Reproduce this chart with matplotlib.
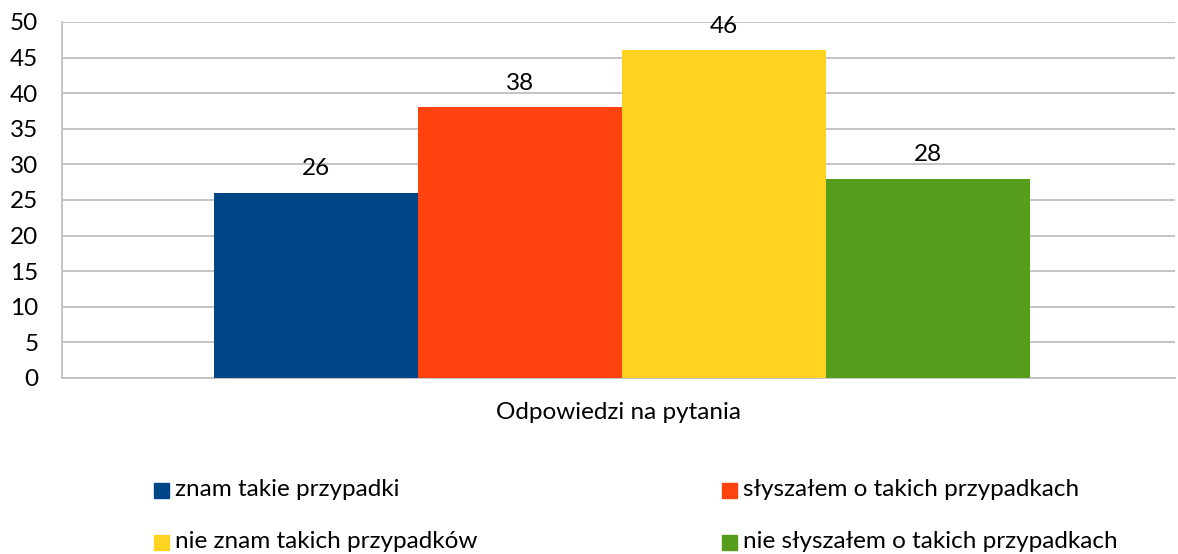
import matplotlib.pyplot as plt
from matplotlib.patches import Rectangle

labels = ['znam takie przypadki', 'słyszałem o takich przypadkach',
          'nie znam takich przypadków', 'nie słyszałem o takich przypadkach']
values = [26, 38, 46, 28]
colors = ['#004586', '#FF420E', '#FFD320', '#579D1C']
yticks = [0, 5, 10, 15, 20, 25, 30, 35, 40, 45, 50]

plt.rcParams['font.family'] = ['Lato', 'DejaVu Sans']
FS = 17.5

fig = plt.figure(figsize=(11.78, 5.54), dpi=100)
ax = fig.add_axes([0.0526, 0.3177, 0.9449, 0.6426])

x = range(len(values))
bars = ax.bar(x, values, width=1.0, color=colors, zorder=3)
ax.bar_label(bars, labels=[str(v) for v in values], padding=10, fontsize=FS)

ax.set_xlim(-1.245, 4.211)
ax.set_ylim(0, 50)
ax.set_yticks(yticks)
ax.set_xticks([])
ax.tick_params(axis='y', length=0, labelsize=FS, pad=17)
ax.grid(axis='y', color='#BFBFBF', linewidth=1.3, zorder=0)
for s in ['top', 'right']:
    ax.spines[s].set_visible(False)
for s in ['left', 'bottom']:
    ax.spines[s].set_color('#BFBFBF')
    ax.spines[s].set_linewidth(1.3)

ax.set_xlabel('Odpowiedzi na pytania', fontsize=FS, labelpad=17)

# legend, drawn by hand: 2 columns x 2 rows
pos = [(154, 490), (722, 490), (154, 542), (722, 542)]
W, H = 1178, 554
for (px, py), lab, c in zip(pos, labels, colors):
    fig.patches.append(Rectangle((px / W, (H - py - 7.5) / H), 15 / W, 15 / H,
                                 transform=fig.transFigure, color=c))
    fig.text((px + 21) / W, (H - py) / H, lab, fontsize=FS, va='center')

fig.savefig('out.png')
